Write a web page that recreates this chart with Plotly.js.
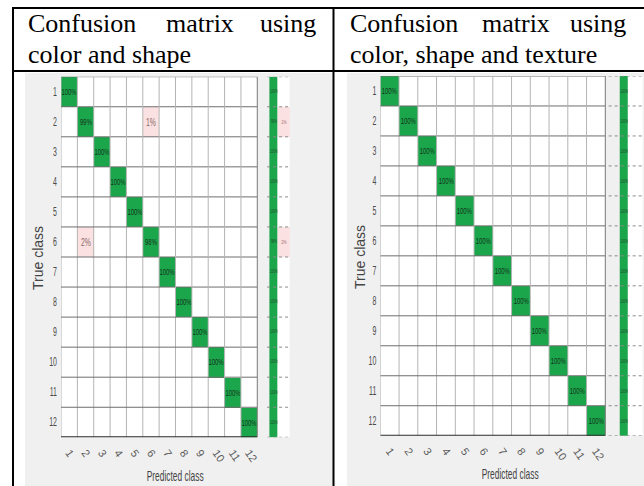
<!DOCTYPE html>
<html><head><meta charset="utf-8">
<script src="https://cdn.plot.ly/plotly-3.0.1.min.js"></script>
<style>html,body{margin:0;padding:0;background:#fff}#chart{width:644px;height:486px}</style>
</head><body><div id="chart"></div>
<script>
const W = 644, H = 486;

// ---- data ----
const classIdx = [1, 2, 3, 4, 5, 6, 7, 8, 9, 10, 11, 12];
const classLabels = ['1', '2', '3', '4', '5', '6', '7', '8', '9', '10', '11', '12'];

// rows = true class, columns = predicted class (percent of row)
const cmColorShape = [
  [100, 0, 0, 0, 0, 0, 0, 0, 0, 0, 0, 0],
  [0, 99, 0, 0, 0, 1, 0, 0, 0, 0, 0, 0],
  [0, 0, 100, 0, 0, 0, 0, 0, 0, 0, 0, 0],
  [0, 0, 0, 100, 0, 0, 0, 0, 0, 0, 0, 0],
  [0, 0, 0, 0, 100, 0, 0, 0, 0, 0, 0, 0],
  [0, 2, 0, 0, 0, 98, 0, 0, 0, 0, 0, 0],
  [0, 0, 0, 0, 0, 0, 100, 0, 0, 0, 0, 0],
  [0, 0, 0, 0, 0, 0, 0, 100, 0, 0, 0, 0],
  [0, 0, 0, 0, 0, 0, 0, 0, 100, 0, 0, 0],
  [0, 0, 0, 0, 0, 0, 0, 0, 0, 100, 0, 0],
  [0, 0, 0, 0, 0, 0, 0, 0, 0, 0, 100, 0],
  [0, 0, 0, 0, 0, 0, 0, 0, 0, 0, 0, 100]
];
const cmColorShapeTexture = [
  [100, 0, 0, 0, 0, 0, 0, 0, 0, 0, 0, 0],
  [0, 100, 0, 0, 0, 0, 0, 0, 0, 0, 0, 0],
  [0, 0, 100, 0, 0, 0, 0, 0, 0, 0, 0, 0],
  [0, 0, 0, 100, 0, 0, 0, 0, 0, 0, 0, 0],
  [0, 0, 0, 0, 100, 0, 0, 0, 0, 0, 0, 0],
  [0, 0, 0, 0, 0, 100, 0, 0, 0, 0, 0, 0],
  [0, 0, 0, 0, 0, 0, 100, 0, 0, 0, 0, 0],
  [0, 0, 0, 0, 0, 0, 0, 100, 0, 0, 0, 0],
  [0, 0, 0, 0, 0, 0, 0, 0, 100, 0, 0, 0],
  [0, 0, 0, 0, 0, 0, 0, 0, 0, 100, 0, 0],
  [0, 0, 0, 0, 0, 0, 0, 0, 0, 0, 100, 0],
  [0, 0, 0, 0, 0, 0, 0, 0, 0, 0, 0, 100]
];

const headerLeftLine1 = ['Confusion', 'matrix', 'using'];
const headerLeftLine2 = 'color and shape';
const headerRightLine1 = ['Confusion', 'matrix', 'using'];
const headerRightLine2 = 'color, shape and texture';
const xTitle = 'Predicted class';
const yTitle = 'True class';

// ---- styles ----
const GREEN = '#1ca64c';
const PINK = '#fbe1e1';
const BG = '#f0f0f0';
const SANS = "'Liberation Sans',Arial,sans-serif";
const SERIF = "'Liberation Serif','Times New Roman',serif";

const px = x => x / W;
const py = y => 1 - y / H;

const panels = [
  { cm: cmColorShape, xa: 'x', ya: 'y', x0: 61, x1: 290, y0: 76.7, y1: 437.3,
    g0: 13.24, g1: 13.75, dot0: 13.1, bg: [25, 73, 333, 486],
    yt: [38, 258], xt: [175.5, 476] },
  { cm: cmColorShapeTexture, xa: 'x2', ya: 'y2', x0: 380.3, x1: 642.8, y0: 76, y1: 435.7,
    g0: 13.27, g1: 13.71, dot0: 12.68, bg: [347, 73, 646, 486],
    yt: [360, 257], xt: [510, 474] }
];

const traces = [];
const shapes = [];
const annotations = [];
const n = classIdx.length;
const yEdges = classIdx.map(c => c - 0.5).concat([classIdx[n - 1] + 0.5]);
const yTitleFont = { family: SANS, size: 14, color: '#454545' };
const xTitleFont = { family: SANS, size: 14.5, color: '#454545' };

panels.forEach(p => {
  const cm = p.cm;
  shapes.push({ type: 'rect', xref: 'paper', yref: 'paper', layer: 'below',
    x0: px(p.bg[0]), x1: px(p.bg[2]), y0: py(p.bg[3]), y1: py(p.bg[1]),
    fillcolor: BG, line: { width: 0 } });

  traces.push({
    type: 'heatmap', xaxis: p.xa, yaxis: p.ya, x: classIdx, y: classIdx,
    z: cm.map((row, i) => row.map((v, j) => (i === j && v > 0) ? 1 : 0)),
    text: cm.map((row, i) => row.map((v, j) => (i === j && v > 0) ? v + '%' : '')),
    texttemplate: '%{text}', textfont: { family: SANS, size: 9.5, color: '#12301a' },
    colorscale: [[0, '#ffffff'], [1, GREEN]], zmin: 0, zmax: 1, showscale: false, hoverinfo: 'skip'
  });
  traces.push({
    type: 'heatmap', xaxis: p.xa, yaxis: p.ya, x: classIdx, y: classIdx,
    z: cm.map((row, i) => row.map((v, j) => (i !== j && v > 0) ? 1 : null)),
    text: cm.map((row, i) => row.map((v, j) => (i !== j && v > 0) ? v + '%' : '')),
    texttemplate: '%{text}', textfont: { family: SANS, size: 11, color: '#8c6a6a' },
    colorscale: [[0, PINK], [1, PINK]], zmin: 0, zmax: 1, showscale: false, hoverinfo: 'skip'
  });
  traces.push({
    type: 'heatmap', xaxis: p.xa, yaxis: p.ya, x: [p.g0, p.g1], y: yEdges,
    z: cm.map((row, i) => [row[i] > 0 ? 1 : 0]),
    text: cm.map((row, i) => [row[i] + '%']),
    texttemplate: '%{text}', textfont: { family: SANS, size: 5, color: '#1d4a2a' },
    colorscale: [[0, '#ffffff'], [1, GREEN]], zmin: 0, zmax: 1, showscale: false, hoverinfo: 'skip'
  });
  traces.push({
    type: 'heatmap', xaxis: p.xa, yaxis: p.ya, x: [p.g1, 14.5], y: yEdges,
    z: cm.map((row, i) => { const e = row.reduce((a, b) => a + b, 0) - row[i]; return [e > 0 ? 1 : 0]; }),
    text: cm.map((row, i) => { const e = row.reduce((a, b) => a + b, 0) - row[i]; return [e > 0 ? e + '%' : '']; }),
    texttemplate: '%{text}', textfont: { family: SANS, size: 6, color: '#a07070' },
    colorscale: [[0, '#ffffff'], [1, PINK]], zmin: 0, zmax: 1, showscale: false, hoverinfo: 'skip'
  });

  for (let k = 0; k <= n; k++) {
    const b = k + 0.5;
    shapes.push({ type: 'line', xref: p.xa, yref: p.ya, layer: 'above',
      x0: 0.5, x1: n + 0.5, y0: b, y1: b,
      line: { color: k === n ? '#2a2a2a' : '#6e6e6e', width: k === n ? 2 : 1 } });
    shapes.push({ type: 'line', xref: p.xa, yref: p.ya, layer: 'above',
      x0: b, x1: b, y0: 0.5, y1: n + 0.5,
      line: { color: k === n ? '#7a7a7a' : '#b4b4b4', width: 1 } });
    shapes.push({ type: 'line', xref: p.xa, yref: p.ya, layer: 'above',
      x0: p.dot0, x1: 14.5, y0: b, y1: b,
      line: { color: '#8a8a8a', width: 1, dash: 'dot' } });
  }

  annotations.push({ text: yTitle, xref: 'paper', yref: 'paper', x: px(p.yt[0]), y: py(p.yt[1]),
    xanchor: 'center', yanchor: 'middle', textangle: -90, showarrow: false, font: yTitleFont });
  annotations.push({ text: xTitle, xref: 'paper', yref: 'paper', x: px(p.xt[0]), y: py(p.xt[1]),
    xanchor: 'center', yanchor: 'middle', showarrow: false, font: xTitleFont });
});

const tline = (x0, y0, x1, y1) => shapes.push({ type: 'line', xref: 'paper', yref: 'paper', layer: 'above',
  x0: px(x0), x1: px(x1), y0: py(y0), y1: py(y1), line: { color: '#000', width: 2 } });
tline(12, 8, 646, 8);
tline(12, 71, 646, 71);
tline(13, 7, 13, 488);
tline(333.5, 7, 333.5, 488);

const hdr = (text, x, y, anchor) => annotations.push({ text, xref: 'paper', yref: 'paper',
  x: px(x), y: py(y), xanchor: anchor, yanchor: 'middle', showarrow: false,
  font: { family: SERIF, size: 26, color: '#000' } });
hdr(headerLeftLine1[0], 26, 23.7, 'left');
hdr(headerLeftLine1[1], 164, 23.7, 'left');
hdr(headerLeftLine1[2], 318, 23.7, 'right');
hdr(headerLeftLine2, 26, 54.7, 'left');
hdr(headerRightLine1[0], 348, 23.7, 'left');
hdr(headerRightLine1[1], 480, 23.7, 'left');
hdr(headerRightLine1[2], 628, 23.7, 'right');
hdr(headerRightLine2, 348, 54.7, 'left');

const xTickFont = { family: SANS, size: 11, color: '#5a5a5a' };
const yTickFont = { family: SANS, size: 12, color: '#4a4a4a' };
const mkX = (p, anchor) => ({
  domain: [px(p.x0), px(p.x1)], range: [0.5, 14.5], anchor,
  tickmode: 'array', tickvals: classIdx, ticktext: classLabels, tickangle: 55,
  tickfont: xTickFont, ticks: '', ticklabelstandoff: 6,
  showgrid: false, zeroline: false, showline: false, automargin: false, fixedrange: true
});
const mkY = (p, anchor) => ({
  domain: [py(p.y1), py(p.y0)], range: [n + 0.5, 0.5], anchor,
  tickmode: 'array', tickvals: classIdx, ticktext: classLabels,
  tickfont: yTickFont, ticks: '', ticklabelstandoff: 3,
  showgrid: false, zeroline: false, showline: false, automargin: false, fixedrange: true
});

const layout = {
  width: W, height: H, autosize: false,
  margin: { l: 0, r: 0, t: 0, b: 0 },
  paper_bgcolor: '#ffffff', plot_bgcolor: 'rgba(0,0,0,0)',
  showlegend: false,
  xaxis: mkX(panels[0], 'y'), yaxis: mkY(panels[0], 'x'),
  xaxis2: mkX(panels[1], 'y2'), yaxis2: mkY(panels[1], 'x2'),
  shapes, annotations
};

// the source screenshots are horizontally compressed: narrow the small labels the same way
function squish(nodes, factor) {
  nodes.forEach(t => {
    const len = t.getComputedTextLength();
    if (len > 0) {
      t.setAttribute('textLength', (len * factor).toFixed(2));
      t.setAttribute('lengthAdjust', 'spacingAndGlyphs');
    }
  });
}

Plotly.newPlot('chart', traces, layout, { staticPlot: true, displayModeBar: false }).then(gd => {
  squish(gd.querySelectorAll('.ytick text, .y2tick text'), 0.58);
  squish(gd.querySelectorAll('.heatmaplayer text'), 0.62);
  squish(Array.from(gd.querySelectorAll('.annotation-text')).filter(t => t.textContent === xTitle), 0.58);
});
</script></body></html>
